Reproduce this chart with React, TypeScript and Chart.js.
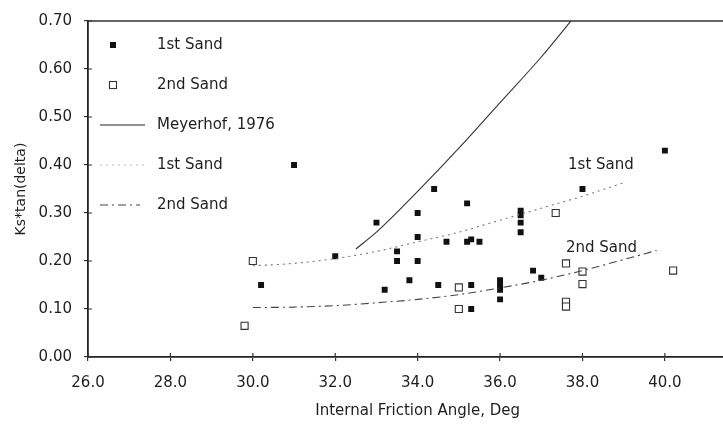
import React, { useEffect, useRef } from "react";
import { Chart, registerables } from "chart.js";

Chart.register(...registerables);

// ---- data ----
const sand1X = [30.2, 31.0, 32.0, 33.0, 33.2, 33.5, 33.5, 33.8, 34.0, 34.0, 34.0, 34.4, 34.5, 34.7, 35.2, 35.2, 35.3, 35.3, 35.3, 35.5, 36.0, 36.0, 36.0, 36.0, 36.5, 36.5, 36.5, 36.5, 36.8, 37.0, 38.0, 40.0];
const sand1Y = [0.15, 0.40, 0.21, 0.28, 0.14, 0.22, 0.20, 0.16, 0.30, 0.25, 0.20, 0.35, 0.15, 0.24, 0.32, 0.24, 0.245, 0.15, 0.10, 0.24, 0.16, 0.15, 0.14, 0.12, 0.305, 0.295, 0.28, 0.26, 0.18, 0.165, 0.35, 0.43];

const sand2X = [29.8, 30.0, 35.0, 35.0, 37.35, 37.6, 37.6, 37.6, 38.0, 38.0, 40.2];
const sand2Y = [0.065, 0.20, 0.145, 0.10, 0.30, 0.195, 0.115, 0.105, 0.178, 0.152, 0.18];

const meyerhofX = [32.5, 33, 34, 35, 36, 37, 38];
const meyerhofY = [0.225, 0.26, 0.345, 0.435, 0.53, 0.625, 0.73];

const fit1X = [30, 31, 32, 33, 34, 35, 36, 37, 38, 39];
const fit1Y = [0.19, 0.195, 0.205, 0.22, 0.24, 0.26, 0.285, 0.31, 0.335, 0.363];

const fit2X = [30, 31, 32, 33, 34, 35, 36, 37, 38, 39, 39.8];
const fit2Y = [0.103, 0.104, 0.107, 0.113, 0.12, 0.13, 0.144, 0.16, 0.18, 0.203, 0.222];

const xTicks = [26, 28, 30, 32, 34, 36, 38, 40, 42];
const yTicks = [0, 0.1, 0.2, 0.3, 0.4, 0.5, 0.6, 0.7];

const legendLabels = ["1st Sand", "2nd Sand", "Meyerhof, 1976", "1st Sand", "2nd Sand"];
const curveLabels = [
  { text: "1st Sand", x: 37.65, y: 0.4 },
  { text: "2nd Sand", x: 37.6, y: 0.226 },
];

const xTitle = "Internal Friction Angle, Deg";
const yTitle = "Ks*tan(delta)";

const FONT = "'DejaVu Sans', sans-serif";
const INK = "#1e1e1e";

const toPts = (xs: number[], ys: number[]) => xs.map((x, i) => ({ x, y: ys[i] }));

const decorPlugin = {
  id: "decor",
  afterDraw(chart: any) {
    const { ctx, chartArea, scales } = chart;
    const xs = scales.x;
    const ys = scales.y;
    ctx.save();
    // top border
    ctx.strokeStyle = "#333";
    ctx.lineWidth = 1.6;
    ctx.beginPath();
    ctx.moveTo(chartArea.left, chartArea.top);
    ctx.lineTo(chartArea.right, chartArea.top);
    ctx.stroke();
    // inner tick marks
    ctx.lineWidth = 1.2;
    ctx.beginPath();
    xTicks.forEach((v) => {
      const px = xs.getPixelForValue(v);
      ctx.moveTo(px, chartArea.bottom);
      ctx.lineTo(px, chartArea.bottom - 4);
    });
    yTicks.forEach((v) => {
      const py = ys.getPixelForValue(v);
      ctx.moveTo(chartArea.left, py);
      ctx.lineTo(chartArea.left + 4, py);
    });
    ctx.stroke();

    // legend
    const lx = chartArea.left;
    const ly = chartArea.top;
    const rowY = (i: number) => ly + 24 + i * 40;
    const textX = lx + 69;
    ctx.font = `15px ${FONT}`;
    ctx.fillStyle = INK;
    ctx.textBaseline = "middle";
    ctx.textAlign = "left";
    legendLabels.forEach((t, i) => ctx.fillText(t, textX, rowY(i)));
    // markers
    ctx.fillStyle = "#111";
    ctx.fillRect(lx + 22, rowY(0) - 3, 6, 6);
    ctx.strokeStyle = "#333";
    ctx.lineWidth = 1.1;
    ctx.strokeRect(lx + 21.5, rowY(1) - 3.5, 7, 7);
    // solid line
    ctx.strokeStyle = "#222";
    ctx.lineWidth = 1.2;
    ctx.setLineDash([]);
    ctx.beginPath();
    ctx.moveTo(lx + 12, rowY(2));
    ctx.lineTo(lx + 57, rowY(2));
    ctx.stroke();
    // dotted (faint)
    ctx.strokeStyle = "#bbb";
    ctx.setLineDash([2, 4]);
    ctx.beginPath();
    ctx.moveTo(lx + 12, rowY(3));
    ctx.lineTo(lx + 57, rowY(3));
    ctx.stroke();
    // dash-dot
    ctx.strokeStyle = "#444";
    ctx.setLineDash([8, 4, 2, 4]);
    ctx.beginPath();
    ctx.moveTo(lx + 12, rowY(4));
    ctx.lineTo(lx + 52, rowY(4));
    ctx.stroke();
    ctx.setLineDash([]);

    // curve labels
    ctx.fillStyle = INK;
    ctx.font = `15px ${FONT}`;
    curveLabels.forEach((c) => {
      ctx.fillText(c.text, xs.getPixelForValue(c.x), ys.getPixelForValue(c.y));
    });
    ctx.restore();
  },
};

export default function App() {
  const ref = useRef<HTMLCanvasElement | null>(null);

  useEffect(() => {
    if (!ref.current) return;
    const chart = new Chart(ref.current, {
      type: "scatter",
      data: {
        datasets: [
          {
            label: "Meyerhof, 1976",
            type: "line",
            data: toPts(meyerhofX, meyerhofY),
            borderColor: "#333",
            borderWidth: 1.1,
            pointRadius: 0,
            cubicInterpolationMode: "monotone",
            fill: false,
          } as any,
          {
            label: "1st Sand fit",
            type: "line",
            data: toPts(fit1X, fit1Y),
            borderColor: "#777",
            borderWidth: 1.1,
            borderDash: [2, 4],
            pointRadius: 0,
            cubicInterpolationMode: "monotone",
            fill: false,
          } as any,
          {
            label: "2nd Sand fit",
            type: "line",
            data: toPts(fit2X, fit2Y),
            borderColor: "#444",
            borderWidth: 1.1,
            borderDash: [8, 4, 2, 4],
            pointRadius: 0,
            cubicInterpolationMode: "monotone",
            fill: false,
          } as any,
          {
            label: "1st Sand",
            data: toPts(sand1X, sand1Y),
            pointStyle: "rect",
            pointRadius: 4.2,
            backgroundColor: "#111",
            borderColor: "#111",
            borderWidth: 0,
          },
          {
            label: "2nd Sand",
            data: toPts(sand2X, sand2Y),
            pointStyle: "rect",
            pointRadius: 5,
            backgroundColor: "#fff",
            borderColor: "#333",
            borderWidth: 1.1,
          },
        ],
      },
      options: {
        animation: false,
        responsive: false,
        devicePixelRatio: 1,
        layout: { padding: { top: 16, right: 20, left: 0, bottom: 0 } },
        plugins: {
          legend: { display: false },
          tooltip: { enabled: false },
          title: { display: false },
        },
        scales: {
          x: {
            type: "linear",
            min: 26,
            max: 42,
            afterBuildTicks: (s: any) => {
              s.ticks = xTicks.map((v) => ({ value: v }));
            },
            afterFit: (s: any) => {
              s.height = 68;
            },
            ticks: {
              font: { family: FONT, size: 15 },
              color: INK,
              padding: 13,
              maxRotation: 0,
              callback: (v: any) => Number(v).toFixed(1),
            },
            grid: {
              drawOnChartArea: false,
              drawTicks: true,
              tickLength: 4,
              color: "#333",
              lineWidth: 1.2,
            },
            border: { display: true, color: "#222", width: 1.8 },
            title: {
              display: true,
              text: xTitle,
              font: { family: FONT, size: 15 },
              color: INK,
              padding: { top: 0, bottom: 5 },
            },
          },
          y: {
            type: "linear",
            min: 0,
            max: 0.7,
            afterBuildTicks: (s: any) => {
              s.ticks = yTicks.map((v) => ({ value: v }));
            },
            afterFit: (s: any) => {
              s.width = 88;
            },
            ticks: {
              font: { family: FONT, size: 15 },
              color: INK,
              padding: 12,
              callback: (v: any) => Number(v).toFixed(2),
            },
            grid: {
              drawOnChartArea: false,
              drawTicks: true,
              tickLength: 4,
              color: "#333",
              lineWidth: 1.2,
            },
            border: { display: true, color: "#222", width: 1.8 },
            title: {
              display: true,
              text: yTitle,
              font: { family: FONT, size: 14 },
              color: INK,
              padding: { top: 13, bottom: 0 },
            },
          },
        },
      },
      plugins: [decorPlugin],
    });
    return () => chart.destroy();
  }, []);

  return (
    <div
      style={{
        position: "fixed",
        left: 0,
        top: 0,
        width: 723,
        height: 425,
        overflow: "hidden",
        background: "#fff",
      }}
    >
      <canvas ref={ref} width={777} height={425} style={{ display: "block" }} />
    </div>
  );
}
